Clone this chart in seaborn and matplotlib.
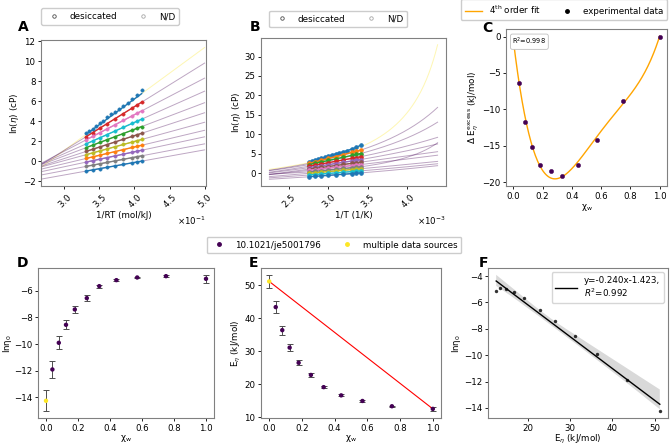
import numpy as np
import pandas as pd
import matplotlib
matplotlib.use("Agg")
import matplotlib.pyplot as plt
from matplotlib.lines import Line2D
from matplotlib.ticker import MultipleLocator
import seaborn as sns

# ---------------- data ----------------
x_w = [0.0, 0.04, 0.08, 0.125, 0.18, 0.255, 0.333, 0.44, 0.57, 0.75, 1.0]
ln_eta0 = [-14.25, -11.9, -9.9, -8.55, -7.4, -6.55, -5.65, -5.2, -5.0, -4.9, -5.1]
ln_eta0_err = [0.78, 0.65, 0.5, 0.35, 0.25, 0.2, 0.12, 0.1, 0.06, 0.1, 0.3]
E_eta = [51.2, 43.4, 36.4, 31.1, 26.5, 22.8, 19.1, 16.6, 14.9, 13.3, 12.5]
E_eta_err = [2.0, 1.8, 1.4, 1.0, 0.7, 0.5, 0.3, 0.3, 0.2, 0.2, 0.7]
source = ["multiple data sources"] + ["10.1021/je5001796"] * 10
dE_excess = [0.0, -6.4, -11.8, -15.2, -17.6, -18.5, -19.1, -17.6, -14.2, -8.9, 0.0]

# desiccated (x_w = 0) measurements
T_des = [363.15, 358.15, 353.15, 348.15, 343.15, 338.15, 333.15, 328.15,
         323.15, 318.15, 313.15, 308.15, 303.15, 298.15, 293.15]
ln_eta_des = [2.85, 3.0, 3.25, 3.5, 3.8, 4.05, 4.4, 4.7, 4.95, 5.2, 5.5, 5.8, 6.2, 6.6, 7.15]

# other compositions, measured at these temperatures
T_meas = [363.15, 353.15, 343.15, 333.15, 323.15, 313.15, 303.15, 298.15, 293.15]
ln_eta_004 = [2.47, 2.88, 3.31, 3.77, 4.25, 4.77, 5.32, 5.61, 5.91]
ln_eta_008 = [2.16, 2.50, 2.86, 3.24, 3.65, 4.08, 4.54, 4.78, 5.03]
ln_eta_0125 = [1.75, 2.04, 2.35, 2.68, 3.03, 3.39, 3.79, 4.00, 4.21]
ln_eta_018 = [1.38, 1.63, 1.89, 2.17, 2.46, 2.78, 3.11, 3.29, 3.47]
ln_eta_0255 = [1.00, 1.21, 1.44, 1.68, 1.94, 2.21, 2.50, 2.65, 2.80]
ln_eta_0333 = [0.68, 0.86, 1.04, 1.25, 1.46, 1.69, 1.93, 2.06, 2.19]
ln_eta_044 = [0.30, 0.45, 0.62, 0.79, 0.98, 1.18, 1.39, 1.50, 1.61]
ln_eta_057 = [-0.07, 0.07, 0.22, 0.38, 0.55, 0.72, 0.91, 1.01, 1.11]
ln_eta_075 = [-0.50, -0.37, -0.24, -0.10, 0.05, 0.21, 0.38, 0.47, 0.56]
ln_eta_100 = [-0.96, -0.84, -0.72, -0.59, -0.45, -0.30, -0.14, -0.06, 0.03]
ln_eta_meas = [ln_eta_004, ln_eta_008, ln_eta_0125, ln_eta_018, ln_eta_0255,
               ln_eta_0333, ln_eta_044, ln_eta_057, ln_eta_075, ln_eta_100]

# VFT model parameters (ln eta = A + B/(T - T0)) per composition
vft_A = [-2.40, -3.44, -3.23, -4.54, -4.30, -6.32, -4.77, -1.53, -4.30, -3.84, -3.72]
vft_B = [797.2, 1125, 1086, 1566, 1480, 2594, 1760, 308.1, 1359, 968, 733.9]
vft_T0 = [205.5, 172.7, 161.5, 114.0, 102.6, 8.6, 40.2, 195.0, 41.9, 72.8, 97.5]

fit_label = "y=-0.240x-1.423,\n$R^2$=0.992"
r2_label = "R$^2$=0.998"

# ---------------- style ----------------
R = 8.3145e-3
TFS = 6.2
LFS = 6.3
plt.rcParams.update({
    "font.size": LFS, "axes.labelsize": LFS, "xtick.labelsize": TFS, "ytick.labelsize": TFS,
    "legend.fontsize": LFS, "axes.edgecolor": "0.5", "axes.linewidth": 0.8,
    "xtick.major.size": 2.5, "ytick.major.size": 2.5,
    "xtick.major.width": 0.6, "ytick.major.width": 0.6,
    "axes.labelpad": 1.0, "xtick.major.pad": 1.5, "ytick.major.pad": 1.5,
})
cmap = matplotlib.colormaps["viridis"]
src_pal = {"10.1021/je5001796": cmap(0.0), "multiple data sources": cmap(1.0)}
colors_A = ["tab:blue", "tab:red", "tab:pink", "tab:cyan", "tab:green", "tab:brown",
            "tab:olive", "tab:orange", "tab:purple", "tab:gray", "tab:blue"]
colors_B = ["tab:blue", "tab:orange", "tab:green", "tab:red", "tab:purple", "tab:brown",
            "tab:pink", "tab:gray", "tab:olive", "tab:cyan", "tab:blue"]

W, H = 672, 446
fig = plt.figure(figsize=(W / 100, H / 100), dpi=100)


def box(l, t, r, b):
    return [l / W, 1 - b / H, (r - l) / W, (b - t) / H]


def letter(x, y, s):
    fig.text(x / W, 1 - y / H, s, fontsize=10, fontweight="bold", va="baseline", ha="left")


leg_kw = dict(frameon=True, fancybox=True, edgecolor="0.8", framealpha=1.0,
              columnspacing=2.0, handletextpad=0.8, borderpad=0.45)

# measured long table
rows = []
for T, v in zip(T_des, ln_eta_des):
    rows.append(dict(comp=0, T=T, ln_eta=v))
for i, arr in enumerate(ln_eta_meas, start=1):
    for T, v in zip(T_meas, arr):
        rows.append(dict(comp=i, T=T, ln_eta=v))
df = pd.DataFrame(rows)
df["invRT"] = 1.0 / (R * df["T"])
df["invT"] = 1.0 / df["T"]

# ---------------- A ----------------
axA = fig.add_axes(box(41, 40, 206, 186))
invRT_grid = np.linspace(1 / (R * 451.0), 0.5, 100)
for i in range(len(x_w)):
    axA.plot(invRT_grid, ln_eta0[i] + E_eta[i] * invRT_grid, color=src_pal[source[i]], alpha=0.35, lw=0.7)
for i in range(len(x_w)):
    sub = df[df.comp == i]
    xs = np.array([sub.invRT.min(), sub.invRT.max()])
    sns.lineplot(x=xs, y=ln_eta0[i] + E_eta[i] * xs, color=colors_A[i], lw=1.0, ax=axA)
    sns.scatterplot(x=sub.invRT, y=sub.ln_eta, color=colors_A[i], s=6, edgecolor=colors_A[i],
                    linewidth=0.3, ax=axA, legend=False, zorder=3)
axA.set_xlim(1 / (R * 451.0), 0.502)
axA.set_ylim(-2.45, 12.1)
axA.xaxis.set_major_locator(MultipleLocator(0.05))
axA.yaxis.set_major_locator(MultipleLocator(2))
axA.ticklabel_format(axis="x", style="sci", scilimits=(0, 0), useMathText=True)
axA.tick_params(axis="x", labelrotation=45)
axA.set_xlabel("1/RT (mol/kJ)")
axA.set_ylabel(r"ln($\eta$) (cP)")
letter(18, 31, "A")

state_handles = [
    Line2D([], [], marker="o", ls="", mfc="white", mec="0.3", ms=2.5, mew=0.6, label="desiccated"),
    Line2D([], [], marker="o", ls="", mfc="white", mec="0.65", ms=2.5, mew=0.6, label="N/D"),
]
fig.legend(handles=state_handles, ncol=2, loc="center", bbox_to_anchor=(110 / W, 1 - 16.5 / H), **leg_kw)

# ---------------- B ----------------
axB = fig.add_axes(box(261, 38, 446, 186))
T_grid = np.linspace(228.0, 443.0, 300)
for i in range(len(x_w)):
    axB.plot(1 / T_grid, vft_A[i] + vft_B[i] / (T_grid - vft_T0[i]), color=src_pal[source[i]], alpha=0.35, lw=0.7)
for j, T in enumerate(T_meas):
    col = [arr[j] for arr in ln_eta_meas]
    axB.plot(np.full(len(col), 1 / T), col, color="tab:blue", alpha=0.6, lw=0.8)
for i in range(len(x_w)):
    sub = df[df.comp == i]
    sns.lineplot(x=sub.invT, y=sub.ln_eta, color=colors_B[i], lw=1.0, marker="o", ms=2.5,
                 mec=colors_B[i], ax=axB)
axB.xaxis.set_major_locator(MultipleLocator(0.0005))
axB.yaxis.set_major_locator(MultipleLocator(5))
axB.ticklabel_format(axis="x", style="sci", scilimits=(0, 0), useMathText=True)
axB.tick_params(axis="x", labelrotation=45)
axB.set_xlabel("1/T (1/K)")
axB.set_ylabel(r"ln($\eta$) (cP)")
letter(250, 31, "B")
fig.legend(handles=state_handles, ncol=2, loc="center", bbox_to_anchor=(338 / W, 1 - 19 / H), **leg_kw)

# ---------------- C ----------------
axC = fig.add_axes(box(506, 29, 667, 186))
coef = np.polyfit(x_w, dE_excess, 4)
xg = np.linspace(0, 1, 200)
sns.lineplot(x=xg, y=np.polyval(coef, xg), color="orange", lw=1.0, ax=axC)
sns.scatterplot(x=x_w, y=dE_excess, color=cmap(0.0), s=10, edgecolor=cmap(0.0), ax=axC, zorder=3)
axC.text(0.04, 0.955, r2_label, transform=axC.transAxes, fontsize=4.8, va="top", ha="left",
         bbox=dict(boxstyle="round,pad=0.3", fc="white", ec="0.75", lw=0.6), zorder=5)
axC.xaxis.set_major_locator(MultipleLocator(0.2))
axC.yaxis.set_major_locator(MultipleLocator(5))
axC.set_xlabel(r"$\mathrm{\chi_w}$")
axC.set_ylabel(r"$\Delta$ E$_\eta^{\mathrm{excess}}$ (kJ/mol)")
letter(482, 32, "C")
c_handles = [
    Line2D([], [], color="orange", lw=1.0, label="4$^{\\mathrm{th}}$ order fit"),
    Line2D([], [], marker="o", ls="", color="black", ms=2.5, label="experimental data"),
]
fig.legend(handles=c_handles, ncol=2, loc="center", bbox_to_anchor=(564 / W, 1 - 9.5 / H), **leg_kw)

# ---------------- D ----------------
axD = fig.add_axes(box(38, 268, 214, 418))
axD.errorbar(x_w, ln_eta0, yerr=ln_eta0_err, fmt="none", ecolor="0.3", elinewidth=0.7, capsize=2, capthick=0.7)
sns.scatterplot(x=x_w, y=ln_eta0, hue=source, palette=src_pal, s=10, linewidth=0, ax=axD, legend=False, zorder=3)
axD.xaxis.set_major_locator(MultipleLocator(0.2))
axD.yaxis.set_major_locator(MultipleLocator(2))
axD.set_xlabel(r"$\mathrm{\chi_w}$", labelpad=0.3)
axD.set_ylabel(r"$\mathrm{ln\eta_0}$", labelpad=0.3)
letter(17, 267, "D")

# ---------------- E ----------------
axE = fig.add_axes(box(261, 268, 441, 418))
axE.errorbar(x_w, E_eta, yerr=E_eta_err, fmt="none", ecolor="0.3", elinewidth=0.7, capsize=2, capthick=0.7)
sns.lineplot(x=[x_w[0], x_w[-1]], y=[E_eta[0], E_eta[-1]], color="red", lw=0.8, ax=axE)
sns.scatterplot(x=x_w, y=E_eta, hue=source, palette=src_pal, s=10, linewidth=0, ax=axE, legend=False, zorder=3)
axE.xaxis.set_major_locator(MultipleLocator(0.2))
axE.yaxis.set_major_locator(MultipleLocator(10))
axE.set_xlabel(r"$\mathrm{\chi_w}$", labelpad=0.3)
axE.set_ylabel(r"E$_\eta$ (kJ/mol)")
letter(249, 267, "E")

src_handles = [
    Line2D([], [], marker="o", ls="", color=src_pal["10.1021/je5001796"], ms=2.5, label="10.1021/je5001796"),
    Line2D([], [], marker="o", ls="", color=src_pal["multiple data sources"], ms=2.5, label="multiple data sources"),
]
fig.legend(handles=src_handles, ncol=2, loc="center", bbox_to_anchor=(334 / W, 1 - 245 / H), **leg_kw)

# ---------------- F ----------------
axF = fig.add_axes(box(488, 268, 668, 418))
sns.regplot(x=E_eta, y=ln_eta0, color="black", ax=axF, seed=0, truncate=True,
            scatter_kws=dict(s=6, linewidths=0), line_kws=dict(lw=1.0, label=fit_label))
axF.xaxis.set_major_locator(MultipleLocator(10))
axF.yaxis.set_major_locator(MultipleLocator(2))
axF.set_xlabel(r"E$_\eta$ (kJ/mol)", labelpad=0.3)
axF.set_ylabel(r"$\mathrm{ln\eta_0}$")
axF.legend(loc="upper right", handlelength=2.5, fancybox=True, edgecolor="0.8")
letter(479, 267, "F")

fig.savefig("out.png", dpi=100)
